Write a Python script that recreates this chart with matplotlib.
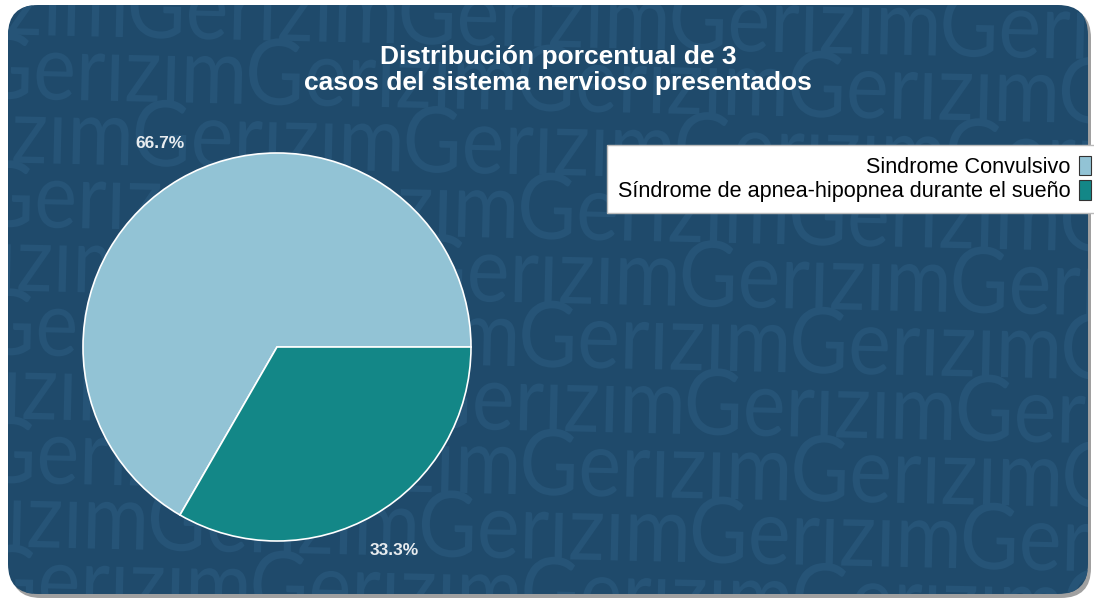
import matplotlib
matplotlib.use("Agg")
import matplotlib.pyplot as plt
from matplotlib.patches import FancyBboxPatch, Patch, PathPatch
from matplotlib.textpath import TextPath
from matplotlib.font_manager import FontProperties
from matplotlib.transforms import Affine2D

# data
LABELS = ["Sindrome Convulsivo", "Síndrome de apnea-hipopnea durante el sueño"]
CASES = [2, 1]
COLORS = ["#92c3d5", "#138787"]
TITLE = "Distribución porcentual de 3\ncasos del sistema nervioso presentados"
WATERMARK = "Gerızım"

W, H = 1094, 599
BG = "#1f4a6b"
WM = "#265477"

plt.rcParams["font.family"] = ["Liberation Sans", "DejaVu Sans"]

fig = plt.figure(figsize=(W / 100, H / 100), dpi=100)
fig.patch.set_facecolor("white")


def fx(px):
    return px / W


def fy(py):
    return 1 - py / H


# background axes in pixel units (y up)
bg = fig.add_axes([0, 0, 1, 1], zorder=0)
bg.set_xlim(0, W)
bg.set_ylim(0, H)
bg.axis("off")

shadow = FancyBboxPatch((11, H - 598), 1080, 590,
                        boxstyle="round,pad=0,rounding_size=30",
                        facecolor="#a0a0a0", edgecolor="none")
bg.add_patch(shadow)
panel = FancyBboxPatch((8, H - 594), 1080, 589,
                       boxstyle="round,pad=0,rounding_size=30",
                       facecolor=BG, edgecolor="none")
bg.add_patch(panel)

# watermark "Gerizim" rows
prop = FontProperties(family=["Lato", "DejaVu Sans"], weight="normal")
g_h = TextPath((0, 0), "G", size=100, prop=prop).get_extents().height
word = TextPath((0, 0), WATERMARK, size=100, prop=prop)
w_ext = word.get_extents()
sy = 67 / g_h
sx = 264 / w_ext.width
tilt = Affine2D().rotate_deg_around(600, H - 300, -1.3)
for k in range(-5, 6):
    base = 304 + 64 * k
    if k % 2 == 0:
        x0 = 140 + 4 * k
    else:
        x0 = -21 + 2 * k
    for j in range(-1, 5):
        tr = (Affine2D().translate(-w_ext.x0, 0).scale(sx, sy)
              .translate(x0 + 271 * j, H - base)) + tilt
        pp = PathPatch(tr.transform_path(word), facecolor=WM,
                       edgecolor="none", transform=bg.transData)
        bg.add_patch(pp)
        pp.set_clip_path(panel)

# pie
cx, cy, r = 277, 347, 194
ax = fig.add_axes([fx(cx - r), fy(cy + r), 2 * r / W, 2 * r / H], zorder=2)
ax.patch.set_alpha(0)
wedges, _, autotexts = ax.pie(
    CASES, colors=COLORS, startangle=0, counterclock=True, radius=1,
    autopct="%.1f%%", pctdistance=1.21,
    wedgeprops=dict(edgecolor="white", linewidth=1.2),
    textprops=dict(color="#e8ecef", fontsize=12.5, fontweight="bold"),
)
ax.set_xlim(-1, 1)
ax.set_ylim(-1, 1)
ax.axis("off")

fig.text(fx(558), fy(70), TITLE, ha="center", va="center", color="white",
         fontsize=19, fontweight="bold", linespacing=1.1, zorder=4)

handles = [Patch(facecolor=c, edgecolor="#333333", linewidth=0.8) for c in COLORS]
leg = fig.legend(handles, LABELS, loc="upper left",
                 bbox_to_anchor=(fx(607), fy(145)), markerfirst=False,
                 frameon=True, fancybox=False, fontsize=15.6,
                 handlelength=0.55, handleheight=1.0, handletextpad=0.4,
                 labelspacing=0.1, borderpad=0.5, borderaxespad=0)
leg.get_frame().set_facecolor("white")
leg.get_frame().set_edgecolor("#bbbbbb")
leg.get_frame().set_alpha(1)
leg.set_zorder(5)

fig.savefig("out.png", dpi=100, facecolor=fig.get_facecolor())
